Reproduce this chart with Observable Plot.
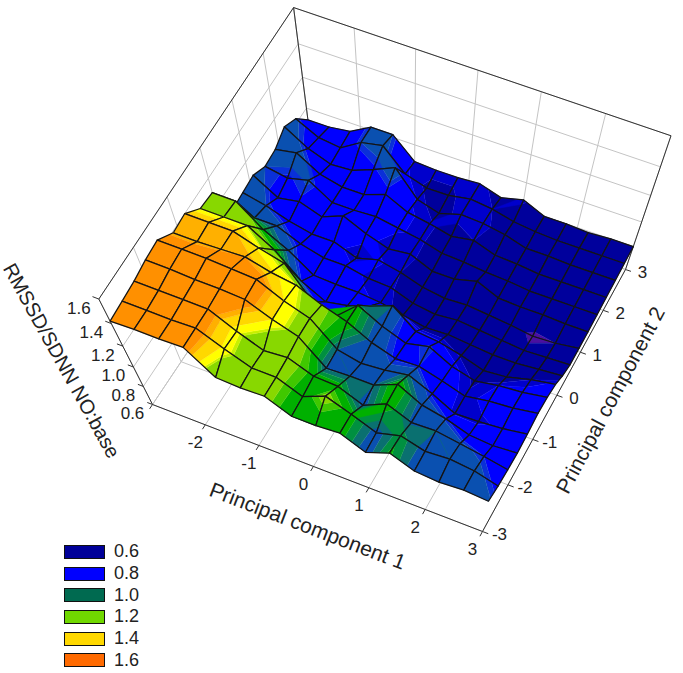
<!DOCTYPE html>
<html><head><meta charset="utf-8">
<script src="https://cdn.jsdelivr.net/npm/d3@7"></script>
<script src="https://cdn.jsdelivr.net/npm/@observablehq/plot@0.6"></script>
<style>
html,body{margin:0;padding:0;background:#fff;font-family:"Liberation Sans",Arial,sans-serif}
#wrap{position:relative;width:683px;height:673px;overflow:hidden}
#legend{position:absolute;left:64px;top:541px;color:#222;font-size:18px}
#legend div{height:21.7px;display:flex;align-items:center}
#legend i{display:block;width:39px;height:12px;border:1px solid #111;margin-right:9px}
</style></head><body><div id="wrap"><div id="legend"></div></div>
<script>
// PC1 grid (15 cells) and PC2 grid (16 cells)
const pc1Start=-3, pc1Step=0.4, pc2Start=-3, pc2Step=0.375;
const row00=[1.42,1.43,1.43,1.44,1.25,1.24,1.25,1.14,1.14,1.16,1.05,1.15,1.05,1.03,1.05,1.03];
const row01=[1.43,1.43,1.43,1.44,1.34,1.25,1.25,1.15,1.25,1.16,1.06,1.13,1.06,1.08,1.05,.98];
const row02=[1.44,1.44,1.44,1.44,1.33,1.24,1.26,1.17,1.16,1.06,1.17,1.07,1.08,1.04,1.0,.95];
const row03=[1.46,1.46,1.45,1.45,1.44,1.35,1.28,1.07,1.08,1.08,1.18,1.06,1.01,.93,.91,.93];
const row04=[1.47,1.47,1.47,1.46,1.45,1.35,1.28,1.08,1.03,1.05,1.09,.99,.87,.88,.9,.94];
const row05=[1.39,1.39,1.4,1.41,1.36,1.33,1.24,1.17,1.06,.99,1.0,.94,.87,.91,.93,.97];
const row06=[1.4,1.4,1.4,1.34,1.29,1.04,.99,1.16,1.05,.97,1.02,.91,.85,.89,.91,.95];
const row07=[1.31,1.31,1.31,1.19,1.0,.89,.93,1.0,1.08,.92,.9,.85,.78,.8,.86,.9];
const row08=[1.3,1.3,1.15,1.05,.91,.9,.9,.88,.84,.8,.81,.79,.77,.77,.79,.81];
const row09=[1.05,1.05,1.05,.97,.92,.92,.88,.87,.8,.77,.79,.77,.75,.73,.74,.75];
const row10=[1.06,1.02,.96,.92,.92,.85,.9,.86,.8,.77,.78,.76,.74,.71,.72,.75];
const row11=[1.07,.96,.99,.93,1.0,.92,.86,.88,.8,.8,.85,.77,.76,.76,.75,.75];
const row12=[1.02,.99,1.03,.92,.92,.93,.9,.87,.82,.81,.79,.78,.76,.76,.76,.76];
const row13=[1.03,1.06,.96,.92,.92,.98,.9,.87,.83,.86,.8,.79,.77,.77,.77,.77];
const row14=[1.08,.98,.92,.93,.99,1.06,.88,.83,.88,.87,.84,.79,.79,.78,.78,.78];
const row15=[1.03,.95,.93,1.02,1.05,.9,.85,.85,.88,.86,.82,.8,.79,.79,.79,.79];
const row16=[.92,.92,.94,1.02,1.02,.88,.87,.87,.88,.83,.87,.8,.8,.79,.8,.8];
const rows=[row00,row01,row02,row03,row04,row05,row06,row07,row08,row09,row10,row11,row12,row13,row14,row15,row16];

const bandBreaks=[.72,.86,.89,1.0,1.02,1.08,1.11,1.14,1.19,1.22,1.31,1.32,1.35,1.39,1.41];
const bandColors=["#4a10a0","#00009c","#0000cc","#0000ff","#0a30d8","#0a50b0","#0a7070","#009040","#00b000","#40c800","#88d800","#c8f000","#ffff00","#ffd800","#ffb000","#ff9000"];
const pc1Ticks=[-3,-2,-1,0,1,2,3], pc2Ticks=[-3,-2,-1,0,1,2,3], zTicks=[.6,.8,1,1.2,1.4,1.6];
const pc1Labels=["-2","-1","0","1","2","3"], pc2Labels=["-3","-2","-1","0","1","2","3"], zLabels=["0.6","0.8","1.0","1.2","1.4","1.6"];
const legendValues=["0.6","0.8","1.0","1.2","1.4","1.6"], legendColors=["#000099","#0000ff","#006a50","#70d800","#ffd800","#ff6a00"];

// camera: floor quad + nadir vanishing point
const xMin=-3,xMax=3,yMin=-3,yMax=3,zMin=.6,zMax=1.6;
const Q=[[152,404],[482,531],[625,269],[313,163]], VP=[408,907], persp=.1733;
const H=(()=>{const [[x0,y0],[x1,y1],[x2,y2],[x3,y3]]=Q;
 const dx1=x1-x2,dx2=x3-x2,sx=x0-x1+x2-x3,dy1=y1-y2,dy2=y3-y2,sy=y0-y1+y2-y3,den=dx1*dy2-dx2*dy1;
 const g=(sx*dy2-dx2*sy)/den,h=(dx1*sy-sx*dy1)/den;
 return {a:x1-x0+g*x1,b:x3-x0+h*x3,c:x0,d:y1-y0+g*y1,e:y3-y0+h*y3,f:y0,g,h};})();
function project(x,y,z){
 const u=(x-xMin)/(xMax-xMin),v=(y-yMin)/(yMax-yMin),w=H.g*u+H.h*v+1;
 const X=(H.a*u+H.b*v+H.c)/w,Y=(H.d*u+H.e*v+H.f)/w,s=1/(1-(z-zMin)*persp);
 return [VP[0]+(X-VP[0])*s,VP[1]+(Y-VP[1])*s];
}
function clip(poly,level,keepAbove){
 const out=[];
 for(let k=0;k<poly.length;k++){
  const a=poly[k],b=poly[(k+1)%poly.length];
  const ina=keepAbove?a[2]>=level:a[2]<=level, inb=keepAbove?b[2]>=level:b[2]<=level;
  if(ina)out.push(a);
  if(ina!==inb){const t=(level-a[2])/(b[2]-a[2]);out.push([a[0]+t*(b[0]-a[0]),a[1]+t*(b[1]-a[1]),level]);}
 }
 return out;
}
const surf=[];let sid=0;
function addSeries(pts,fill,stroke,sw){sid++;for(const p of pts){const q=project(p[0],p[1],p[2]);surf.push({id:sid,px:q[0],py:q[1],fill,stroke,sw});}}
for(let i=0;i<15;i++)for(let j=15;j>=0;j--){
 const xa=pc1Start+i*pc1Step,xb=xa+pc1Step,ya=pc2Start+j*pc2Step,yb=ya+pc2Step;
 const quad=[[xa,ya,rows[j][i]],[xb,ya,rows[j][i+1]],[xb,yb,rows[j+1][i+1]],[xa,yb,rows[j+1][i]]];
 for(let b=0;b<bandColors.length;b++){
  let p=quad;
  if(b>0)p=clip(p,bandBreaks[b-1],true);
  if(p.length&&b<bandBreaks.length)p=clip(p,bandBreaks[b],false);
  if(p.length>2)addSeries(p,bandColors[b],bandColors[b],.5);
 }
 addSeries([...quad,quad[0]],"none","#141414",1.25);
}
const seg=(a,b)=>{const p=project(...a),q=project(...b);return {x1:p[0],y1:p[1],x2:q[0],y2:q[1]};};
const grid=[];
for(const t of pc1Ticks){grid.push(seg([t,yMin,zMin],[t,yMax,zMin]),seg([t,yMax,zMin],[t,yMax,zMax]));}
for(const t of pc2Ticks){grid.push(seg([xMin,t,zMin],[xMax,t,zMin]),seg([xMin,t,zMin],[xMin,t,zMax]));}
for(const t of zTicks){grid.push(seg([xMin,yMin,t],[xMin,yMax,t]),seg([xMin,yMax,t],[xMax,yMax,t]));}
const frame=[
 seg([xMin,yMin,zMin],[xMax,yMin,zMin]),seg([xMax,yMin,zMin],[xMax,yMax,zMin]),
 seg([xMax,yMax,zMin],[xMax,yMax,zMax]),seg([xMax,yMax,zMax],[xMin,yMax,zMax]),
 seg([xMin,yMax,zMax],[xMin,yMin,zMax]),seg([xMin,yMin,zMax],[xMin,yMin,zMin]),
 seg([xMin,yMax,zMin],[xMin,yMax,zMax])];
const ticks=[
 ...pc1Ticks.map(t=>seg([t,yMin,zMin],[t,yMin-.1,zMin])),
 ...pc2Ticks.map(t=>seg([xMax,t,zMin],[xMax+.1,t,zMin])),
 ...zTicks.map(t=>seg([xMin,yMin,t],[xMin-.1,yMin,t]))];
const labels=[
 ...pc1Labels.map(s=>{const q=project(+s,yMin,zMin);return {px:q[0]-10,py:q[1]+18,s};}),
 ...pc2Labels.map(s=>{const q=project(xMax,+s,zMin);return {px:q[0]+17,py:q[1]+3,s};}),
 ...zLabels.map((s,k)=>{const q=project(xMin,yMin,zTicks[k]);return {px:q[0]-20,py:q[1]+9,s};})];
const tA=project(0,yMin,zMin),tB=project(xMax,0,zMin),tC=project(xMin,yMin,1.1);
const titles=[
 {px:tA[0]-6,py:tA[1]+60,s:"Principal component 1",r:21,f:21},
 {px:tB[0]+54,py:tB[1]+5,s:"Principal component 2",r:-62,f:21},
 {px:tC[0]-67,py:tC[1]+4,s:"RMSSD/SDNN NO:base",r:61,f:20}];

const chart=Plot.plot({width:683,height:673,margin:0,
 x:{domain:[0,683],range:[0,683],axis:null},y:{domain:[0,673],range:[0,673],axis:null},
 color:{type:"identity"},style:{fontFamily:"Liberation Sans, Arial, sans-serif",background:"#fff"},
 marks:[
  Plot.link(grid,{x1:"x1",y1:"y1",x2:"x2",y2:"y2",stroke:"#c4c4c4",strokeWidth:1}),
  Plot.link(frame,{x1:"x1",y1:"y1",x2:"x2",y2:"y2",stroke:"#333",strokeWidth:1}),
  Plot.link(ticks,{x1:"x1",y1:"y1",x2:"x2",y2:"y2",stroke:"#333",strokeWidth:1}),
  Plot.line(surf,{x:"px",y:"py",z:"id",fill:"fill",stroke:"stroke",strokeWidth:"sw",curve:"linear"}),
  Plot.text(labels,{x:"px",y:"py",text:"s",fontSize:17,fill:"#222"}),
  ...titles.map(t=>Plot.text([t],{x:"px",y:"py",text:"s",rotate:t.r,fontSize:t.f,fill:"#222"}))
 ]});
document.getElementById("wrap").prepend(chart);
chart.style.display="block";
const lg=document.getElementById("legend");
legendValues.forEach((v,k)=>{const d=document.createElement("div");const b=document.createElement("i");b.style.background=legendColors[k];d.append(b,document.createTextNode(v));lg.append(d);});
</script></body></html>
